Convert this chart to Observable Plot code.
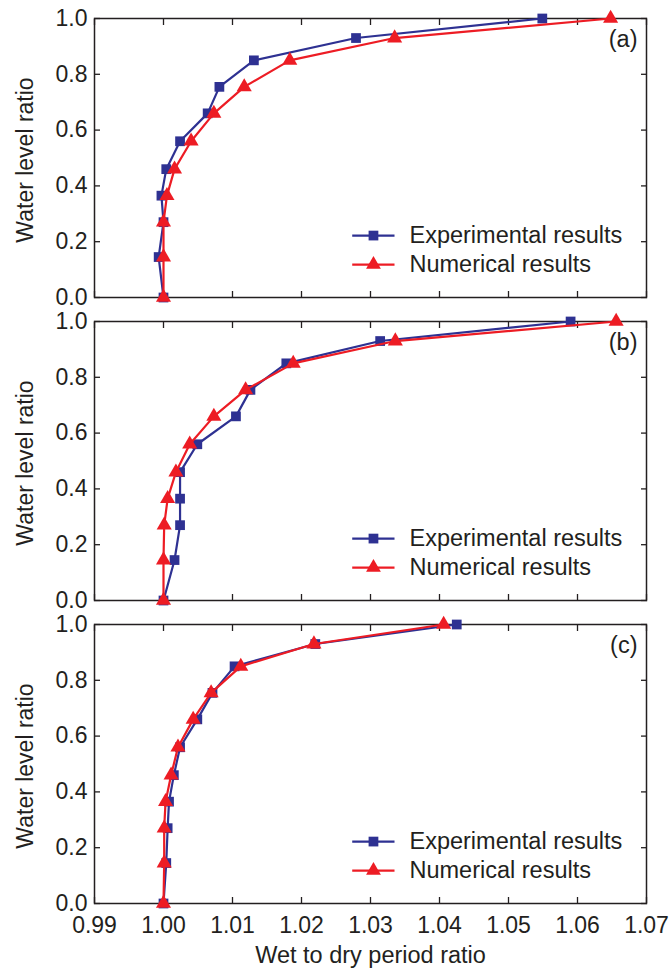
<!DOCTYPE html>
<html>
<head>
<meta charset="utf-8">
<script src="https://cdn.jsdelivr.net/npm/d3@7"></script>
<script src="https://cdn.jsdelivr.net/npm/@observablehq/plot@0.6"></script>
<style>
  body { margin: 0; background: #fff; }
  #chart svg { display: block; }
</style>
</head>
<body>
<div id="chart"></div>
<script>
// ---- data ----
const panels = ["a", "b", "c"];
const seriesNames = ["Experimental results", "Numerical results"];
const levels = [0, 0.145, 0.27, 0.365, 0.46, 0.56, 0.66, 0.755, 0.85, 0.93, 1.0];

const expA = [1.0000, 0.9993, 1.0000, 0.9997, 1.0004, 1.0024, 1.0064, 1.0081, 1.0131, 1.0279, 1.0549];
const numA = [1.0000, 1.0000, 1.0000, 1.0005, 1.0016, 1.0040, 1.0073, 1.0117, 1.0183, 1.0335, 1.0648];
const expB = [1.0000, 1.0016, 1.0024, 1.0024, 1.0024, 1.0049, 1.0105, 1.0126, 1.0178, 1.0314, 1.0590];
const numB = [1.0000, 1.0000, 1.0001, 1.0006, 1.0018, 1.0038, 1.0073, 1.0119, 1.0188, 1.0336, 1.0656];
const expC = [1.0000, 1.0004, 1.0006, 1.0008, 1.0015, 1.0024, 1.0049, 1.0071, 1.0103, 1.0220, 1.0425];
const numC = [1.0000, 1.0001, 1.0001, 1.0003, 1.0011, 1.0021, 1.0043, 1.0069, 1.0112, 1.0218, 1.0406];

const xTicks = [0.99, 1.00, 1.01, 1.02, 1.03, 1.04, 1.05, 1.06, 1.07];
const yTicks = [0, 0.2, 0.4, 0.6, 0.8, 1.0];

// ---- tables built from the arrays ----
const expX = {a: expA, b: expB, c: expC};
const numX = {a: numA, b: numB, c: numC};
const expData = panels.flatMap(p => levels.map((y, i) => ({panel: p, x: expX[p][i], y})));
const numData = panels.flatMap(p => levels.map((y, i) => ({panel: p, x: numX[p][i], y})));

// ---- styles / layout ----
const BLUE = "#2e3192", RED = "#ed1c24", INK = "#231f20";
const LEG = {x1: 1.02735, x2: 1.03348, xm: 1.03043, xt: 1.03565, y0: 0.222, y1: 0.118};
const noText = () => "";

const legendMarks = [
  [BLUE, "square", LEG.y0, seriesNames[0]],
  [RED, "triangle", LEG.y1, seriesNames[1]]
].flatMap(([color, symbol, ly, name]) => [
  Plot.link(panels, {fy: d => d, x1: () => LEG.x1, x2: () => LEG.x2, y1: () => ly, y2: () => ly, stroke: color, strokeWidth: 2.2}),
  Plot.dot(panels, {fy: d => d, x: () => LEG.xm, y: () => ly, symbol, r: 5.5, fill: color, stroke: "none"}),
  Plot.text(panels, {fy: d => d, x: () => LEG.xt, y: () => ly, text: () => name, textAnchor: "start", lineAnchor: "middle", fontSize: 23.5, fill: INK})
]);

const chart = Plot.plot({
  width: 670,
  height: 973,
  marginTop: 17,
  marginBottom: 70,
  marginLeft: 94,
  marginRight: 24,
  style: {fontFamily: "Arial, 'Liberation Sans', Helvetica, sans-serif", fontSize: "23px", color: INK, background: "#fff"},
  x: {domain: [0.99, 1.07]},
  y: {domain: [0, 1]},
  fy: {domain: panels, axis: null, paddingInner: 0.0807, paddingOuter: 0},
  marks: [
    // inward ticks on all four sides
    Plot.axisX({anchor: "bottom", ticks: xTicks, tickSize: -6, tickFormat: noText, label: null, facetAnchor: null, stroke: INK, strokeWidth: 1.3}),
    Plot.axisX({anchor: "top", ticks: xTicks, tickSize: -6, tickFormat: noText, label: null, facetAnchor: null, stroke: INK, strokeWidth: 1.3}),
    Plot.axisY({anchor: "left", ticks: yTicks, tickSize: -6, tickFormat: noText, label: null, stroke: INK, strokeWidth: 1.3}),
    Plot.axisY({anchor: "right", ticks: yTicks, tickSize: -6, tickFormat: noText, label: null, stroke: INK, strokeWidth: 1.3}),
    // tick labels
    Plot.axisX({anchor: "bottom", ticks: xTicks, tickSize: 0, tickPadding: 13, tickFormat: d3.format(".2f"), label: null, fontSize: 23, fill: INK}),
    Plot.axisY({anchor: "left", ticks: yTicks, tickSize: 0, tickPadding: 7, tickFormat: d3.format(".1f"), label: null, fontSize: 23, fill: INK}),
    Plot.frame({stroke: INK, strokeWidth: 1.5}),
    // series
    Plot.line(expData, {x: "x", y: "y", fy: "panel", stroke: BLUE, strokeWidth: 2.2}),
    Plot.dot(expData, {x: "x", y: "y", fy: "panel", symbol: "square", r: 5.5, fill: BLUE, stroke: "none"}),
    Plot.line(numData, {x: "x", y: "y", fy: "panel", stroke: RED, strokeWidth: 2.2}),
    Plot.dot(numData, {x: "x", y: "y", fy: "panel", symbol: "triangle", r: 5.6, fill: RED, stroke: "none"}),
    // legend
    ...legendMarks,
    // panel labels
    Plot.text(panels, {fy: d => d, text: d => `(${d})`, frameAnchor: "top-right", textAnchor: "end", lineAnchor: "top", dx: -9, dy: 12, fontSize: 23.5, fill: INK}),
    // axis titles
    Plot.text(panels, {fy: d => d, text: () => "Water level ratio", frameAnchor: "left", rotate: -90, textAnchor: "middle", lineAnchor: "middle", dx: -69, dy: 2, fontSize: 23, fill: INK}),
    Plot.text(["c"], {fy: d => d, text: () => "Wet to dry period ratio", frameAnchor: "bottom", textAnchor: "middle", lineAnchor: "top", dy: 43, fontSize: 23.5, fill: INK})
  ]
});
document.getElementById("chart").appendChild(chart);
</script>
</body>
</html>
